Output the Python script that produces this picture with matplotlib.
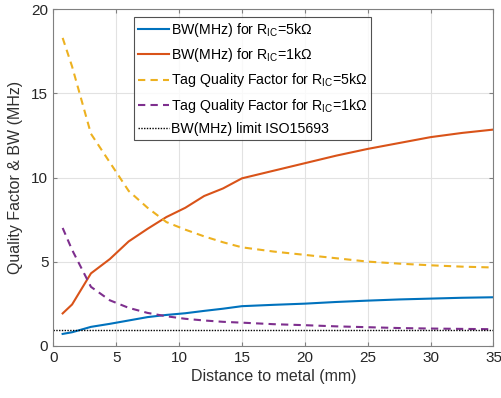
import matplotlib
matplotlib.use("Agg")
import matplotlib.pyplot as plt

plt.rcParams['font.family'] = ['Liberation Sans', 'DejaVu Sans']
plt.rcParams['mathtext.fontset'] = 'custom'
plt.rcParams['mathtext.rm'] = 'Liberation Sans'
plt.rcParams['mathtext.it'] = 'Liberation Sans:italic'

distance = [0.75, 1.5, 3, 4.5, 6, 7.5, 9, 10.5, 12, 13.5, 15, 17.5, 20, 22.5, 25, 27.5, 30, 32.5, 35]
bw_5k = [0.7, 0.8, 1.12, 1.3, 1.5, 1.7, 1.83, 1.93, 2.07, 2.2, 2.35, 2.43, 2.5, 2.6, 2.68, 2.75, 2.8, 2.85, 2.88]
bw_1k = [1.92, 2.45, 4.3, 5.15, 6.2, 6.95, 7.65, 8.2, 8.9, 9.35, 9.95, 10.4, 10.85, 11.3, 11.7, 12.05, 12.4, 12.65, 12.85]
q_5k = [18.3, 16.6, 12.6, 10.9, 9.2, 8.2, 7.35, 6.9, 6.5, 6.15, 5.85, 5.6, 5.4, 5.2, 5.0, 4.88, 4.78, 4.7, 4.65]
q_1k = [7.0, 5.7, 3.5, 2.7, 2.25, 1.95, 1.75, 1.6, 1.5, 1.42, 1.37, 1.28, 1.22, 1.15, 1.1, 1.05, 1.02, 1.0, 0.98]
limit_x = [0, 35]
limit_y = [0.93, 0.93]

labels = [r'BW(MHz) for R$_{\mathrm{IC}}$=5k$\Omega$',
          r'BW(MHz) for R$_{\mathrm{IC}}$=1k$\Omega$',
          r'Tag Quality Factor for R$_{\mathrm{IC}}$=5k$\Omega$',
          r'Tag Quality Factor for R$_{\mathrm{IC}}$=1k$\Omega$',
          'BW(MHz) limit ISO15693']

fig = plt.figure(figsize=(5.02, 3.98), dpi=100)
ax = fig.add_axes([0.106, 0.1314, 0.877, 0.8452])

ax.plot(distance, bw_5k, color='#0072BD', lw=1.5, label=labels[0])
ax.plot(distance, bw_1k, color='#D95319', lw=1.5, label=labels[1])
ax.plot(distance, q_5k, color='#EDB120', lw=1.5, ls=(0, (3.5, 2.5)), label=labels[2])
ax.plot(distance, q_1k, color='#7E2F8E', lw=1.5, ls=(0, (3.5, 2.5)), label=labels[3])
ax.plot(limit_x, limit_y, color='black', lw=1.0, ls=(0, (1, 1)), label=labels[4])

ax.set_xlim(0, 35)
ax.set_ylim(0, 20)
ax.set_xticks(range(0, 36, 5))
ax.set_yticks(range(0, 21, 5))
ax.grid(True, color='#e2e2e2', lw=0.8)
ax.set_axisbelow(True)
ax.tick_params(direction='in', top=True, right=True, labelsize=11, colors='#262626', length=3)
for s in ax.spines.values():
    s.set_color('#808080')
    s.set_linewidth(0.8)
ax.tick_params(axis='both', color='#808080')

ax.set_xlabel('Distance to metal (mm)', fontsize=11.5, color='#303030', labelpad=3)
ax.set_ylabel('Quality Factor & BW (MHz)', fontsize=11.5, color='#303030', labelpad=6)

leg = ax.legend(loc='upper left', bbox_to_anchor=(0.183, 0.977), borderaxespad=0,
                fontsize=10.2, frameon=True, fancybox=False, handlelength=2.2,
                handletextpad=0.1, labelspacing=0.5, borderpad=0.3)
leg.get_frame().set_edgecolor('#262626')
leg.get_frame().set_linewidth(0.8)

fig.savefig('out.png', dpi=100)
